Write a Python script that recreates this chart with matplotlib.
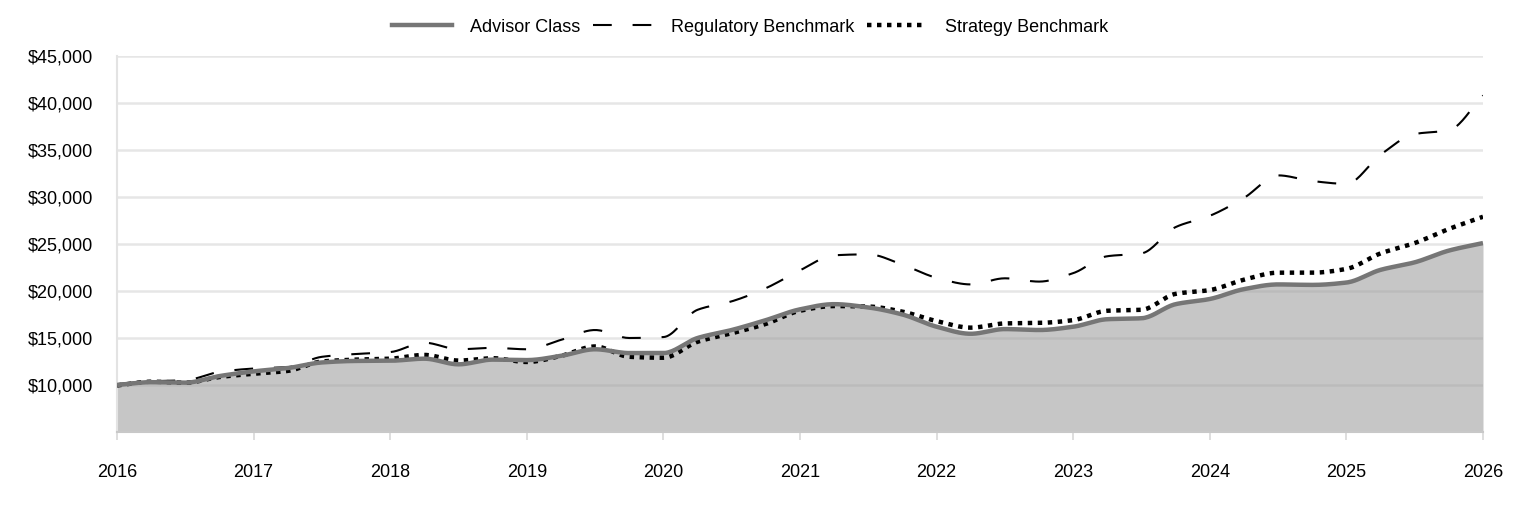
import numpy as np
import matplotlib
matplotlib.use("Agg")
import matplotlib.pyplot as plt
from matplotlib.lines import Line2D
from matplotlib.ticker import FuncFormatter

# ---------------- data (quarterly, growth of $10,000) ----------------
start_year = 2016
periods_per_year = 4
advisor_class = [10000, 10300, 10250, 10950, 11450, 11800, 12400, 12560, 12580,
                 12800, 12200, 12700, 12650, 13100, 13800, 13400, 13400,
                 15000, 15850, 16900, 18050, 18600, 18250, 17500, 16200,
                 15450, 15950, 15850, 16200, 17000, 17100, 18600, 19150,
                 20200, 20700, 20650, 20900, 22250, 23050, 24300, 25100]
regulatory_benchmark = [10100, 10400, 10500, 11400, 11750, 11900, 13000, 13300, 13500,
                        14500, 13800, 13950, 13800, 14800, 15850, 15000, 15100,
                        18000, 18900, 20300, 22200, 23800, 23900, 22800, 21400,
                        20700, 21350, 21000, 21900, 23700, 24000, 26800, 28000,
                        29900, 32300, 31700, 31400, 34500, 36700, 37100, 40800]
strategy_benchmark = [9950, 10350, 10250, 10850, 11200, 11500, 12500, 12700, 12800,
                      13200, 12600, 12850, 12450, 13100, 14100, 13000, 12900,
                      14600, 15500, 16500, 17900, 18400, 18350, 17800, 16800,
                      16100, 16550, 16600, 16900, 17900, 18000, 19700, 20100,
                      21200, 21950, 21950, 22350, 24000, 25100, 26600, 27900]
year_ticks = list(range(2016, 2027))
y_ticks = [10000, 15000, 20000, 25000, 30000, 35000, 40000, 45000]
series_names = ["Advisor Class", "Regulatory Benchmark", "Strategy Benchmark"]

x = start_year + np.arange(len(advisor_class)) / periods_per_year


def smooth(xs, ys, n=20):
    """Monotone cubic (PCHIP-like) curve through the points, for display only."""
    xs = np.asarray(xs, float)
    ys = np.asarray(ys, float)
    h = np.diff(xs)
    d = np.diff(ys) / h
    m = np.zeros_like(ys)
    m[0], m[-1] = d[0], d[-1]
    for i in range(1, len(ys) - 1):
        if d[i - 1] * d[i] <= 0:
            m[i] = 0.0
        else:
            w1 = 2 * h[i] + h[i - 1]
            w2 = h[i] + 2 * h[i - 1]
            m[i] = (w1 + w2) / (w1 / d[i - 1] + w2 / d[i])
    xo, yo = [], []
    for i in range(len(xs) - 1):
        t = np.linspace(0, 1, n, endpoint=False)
        h00 = 2 * t**3 - 3 * t**2 + 1
        h10 = t**3 - 2 * t**2 + t
        h01 = -2 * t**3 + 3 * t**2
        h11 = t**3 - t**2
        xo.append(xs[i] + t * h[i])
        yo.append(h00 * ys[i] + h10 * h[i] * m[i] + h01 * ys[i + 1] + h11 * h[i] * m[i + 1])
    xo.append([xs[-1]])
    yo.append([ys[-1]])
    return np.concatenate(xo), np.concatenate(yo)


plt.rcParams['font.family'] = ['Liberation Sans', 'DejaVu Sans']
FS = 13

fig = plt.figure(figsize=(15.24, 5.16), dpi=100)
ax = fig.add_axes([117 / 1524, 1 - 432 / 516, (1483 - 117) / 1524, (432 - 56) / 516])

ymin, ymax = 5000, 45000
ax.set_xlim(year_ticks[0], year_ticks[-1])
ax.set_ylim(ymin, ymax)

# grid
for yv in y_ticks:
    ax.axhline(yv, color='#e6e6e6', lw=1.8, zorder=0)

xa, ya = smooth(x, advisor_class)
xr, yr = smooth(x, regulatory_benchmark)
xs_, ys_ = smooth(x, strategy_benchmark)

ax.fill_between(xa, ya, ymin, color='#9a9a9a', alpha=0.56, lw=0, zorder=1)
ax.plot(xr, yr, color='black', lw=1.5, dashes=(9, 10), zorder=3)
ax.plot(xs_, ys_, color='black', lw=3.2, dashes=(1.0, 1.25), dash_capstyle='butt', zorder=4)
ax.plot(xa, ya, color='#767676', lw=3.2, zorder=5, solid_capstyle='butt')

# spines
for s in ['top', 'right']:
    ax.spines[s].set_visible(False)
ax.spines['left'].set_color('#e3e3e3')
ax.spines['left'].set_linewidth(1.5)
ax.spines['bottom'].set_color('#c8c8c8')
ax.spines['bottom'].set_linewidth(1.5)

ax.set_xticks(year_ticks)
ax.set_xticklabels([str(v) for v in year_ticks])
ax.set_yticks(y_ticks)
ax.yaxis.set_major_formatter(FuncFormatter(lambda v, p: "${:,.0f}".format(v)))
ax.tick_params(axis='x', length=6, width=1.2, color='#d8d8d8', pad=17, labelsize=FS, labelcolor='black')
ax.tick_params(axis='y', length=0, pad=17, labelsize=FS, labelcolor='black')

handles = [
    Line2D([], [], color='#767676', lw=3.2),
    Line2D([], [], color='black', lw=1.5, dashes=(9, 10)),
    Line2D([], [], color='black', lw=3.2, dashes=(1.0, 1.25), dash_capstyle='butt'),
]
fig.legend(handles, series_names, loc='center', bbox_to_anchor=(750 / 1524, 1 - 27 / 516),
           ncol=3, frameon=False, fontsize=FS, handlelength=3.3, handletextpad=1.0,
           columnspacing=0.72)

fig.savefig('out.png', dpi=100)
